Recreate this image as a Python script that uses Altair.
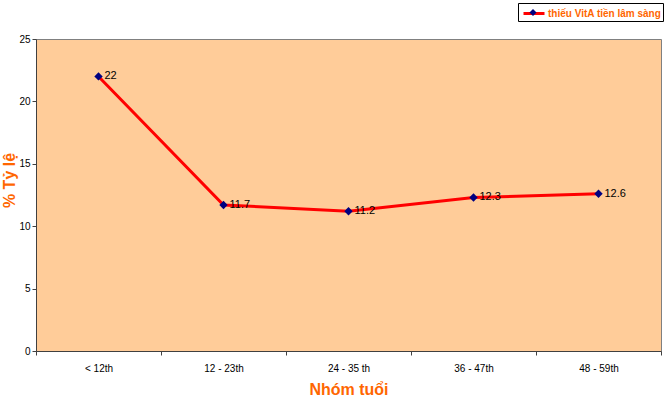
import altair as alt
import pandas as pd

groups = ["< 12th", "12 - 23th", "24 - 35 th", "36 - 47th", "48 - 59th"]
values = [22, 11.7, 11.2, 12.3, 12.6]
series_name = "thiếu VitA tiền lâm sàng"

df = pd.DataFrame({"group": groups, "value": values,
                   "series": [series_name] * len(groups),
                   "series2": [" "] * len(groups)})

xscale = alt.Scale(type="band", domain=groups, paddingInner=0, paddingOuter=0)
yscale = alt.Scale(domain=[0, 25])

x_enc = alt.X("group:N", scale=xscale, sort=groups,
              axis=alt.Axis(title="Nhóm tuổi", labelAngle=0, tickBand="extent",
                            tickSize=4, labelPadding=8, titlePadding=8,
                            titleFontSize=16, titleColor="#FF6600",
                            titleFont="Arial", titleFontWeight="bold",
                            labelFont="Arial", labelFontSize=10, labelColor="#000",
                            domainColor="#404040", tickColor="#404040"))
y_enc = alt.Y("value:Q", scale=yscale,
              axis=alt.Axis(title="% Tỷ lệ", values=[0, 5, 10, 15, 20, 25], grid=False,
                            tickSize=4, labelPadding=2,
                            titleFontSize=16, titleColor="#FF6600",
                            titleFont="Arial", titleFontWeight="bold",
                            titleX=-19, titleY=141, titleAngle=270,
                            labelFont="Arial", labelFontSize=10, labelColor="#000",
                            domainColor="#404040", tickColor="#404040"))

base = alt.Chart(df).encode(x=x_enc, y=y_enc)

line = base.mark_line(strokeWidth=3).encode(
    stroke=alt.Stroke("series:N", scale=alt.Scale(range=["#FF0000"]),
                      legend=alt.Legend(title=None, orient="none", legendX=482, legendY=-36,
                                        symbolType="M-0.625,0H2", symbolSize=256,
                                        symbolStrokeWidth=3, symbolStrokeColor="#FF0000",
                                        labelFont="Arial", labelFontSize=10,
                                        labelFontWeight="bold", labelColor="#FF6600",
                                        labelOffset=10, padding=1,
                                        strokeColor="#000", fillColor="#FFFFFF"))
)

points = base.mark_point(shape="diamond", filled=True, size=70, opacity=1).encode(
    fill=alt.Fill("series2:N", scale=alt.Scale(range=["#000080"]),
                  legend=alt.Legend(title=None, orient="none", legendX=493, legendY=-30.5,
                                    symbolType="diamond", symbolSize=50,
                                    symbolFillColor="#000080", symbolStrokeWidth=0,
                                    labelFontSize=1, labelOffset=0, padding=0))
)

labels = base.mark_text(align="left", baseline="middle", dx=6, font="Arial",
                        fontSize=11, color="#000").encode(text=alt.Text("value:Q"))

chart = alt.layer(line, points, labels).resolve_scale(
    stroke="independent", fill="independent"
).properties(
    width=625, height=312,
    padding={"left": 36, "top": 39, "right": 11, "bottom": 47},
    autosize=alt.AutoSizeParams(type="none"),
    background="#FFFFFF"
).configure_view(fill="#FFCC99", stroke="#808080")

chart.save("out.html", embed_options={"renderer": "svg", "actions": False})
